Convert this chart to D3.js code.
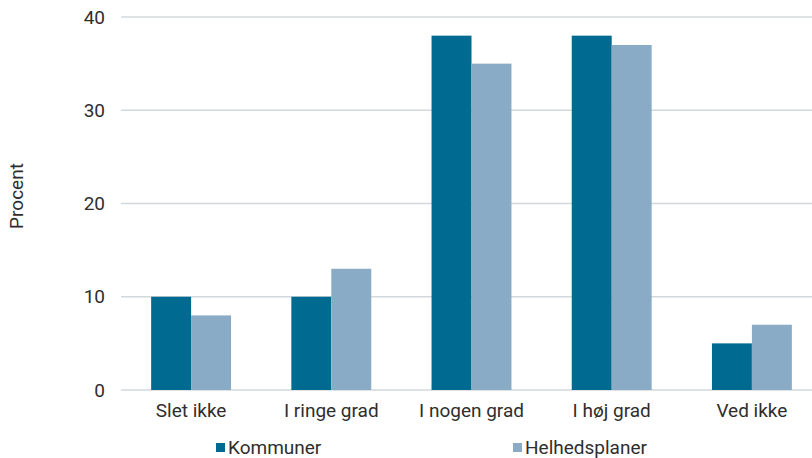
<!DOCTYPE html>
<html>
<head>
<meta charset="utf-8">
<script src="https://cdn.jsdelivr.net/npm/d3@7"></script>
<style>
  html, body { margin: 0; padding: 0; background: #fff; }
  svg { display: block; font-family: Roboto, "DejaVu Sans", sans-serif; }
</style>
</head>
<body>
<svg id="chart" width="812" height="458"></svg>
<script>
const categories = ["Slet ikke", "I ringe grad", "I nogen grad", "I høj grad", "Ved ikke"];
const seriesNames = ["Kommuner", "Helhedsplaner"];
const kommuner = [10, 10, 38, 38, 5];
const helhedsplaner = [8, 13, 35, 37, 7];
const yTicks = [0, 10, 20, 30, 40];
const colors = ["#006a91", "#8aabc5"];

const svg = d3.select("#chart");
const plotLeft = 121, plotRight = 822, plotTop = 17, plotBottom = 390;
const textColor = "#2e2e2e";
const fontSize = 19;

const x = d3.scaleBand().domain(categories).range([plotLeft, plotRight]).paddingInner(0.43).paddingOuter(0.215);
const xs = d3.scaleBand().domain(seriesNames).range([0, x.bandwidth()]);
const y = d3.scaleLinear().domain([0, 40]).range([plotBottom, plotTop]);

// gridlines
svg.append("g")
  .selectAll("line")
  .data(yTicks)
  .join("line")
  .attr("x1", plotLeft).attr("x2", 812)
  .attr("y1", d => y(d)).attr("y2", d => y(d))
  .attr("stroke", "#d3d8dc").attr("stroke-width", 1.5);

// y tick labels
svg.append("g")
  .selectAll("text")
  .data(yTicks)
  .join("text")
  .attr("x", 105).attr("y", d => y(d))
  .attr("dy", "0.35em")
  .attr("text-anchor", "end")
  .attr("font-size", fontSize).attr("fill", textColor)
  .text(d => d);

// y axis title
svg.append("text")
  .attr("transform", `translate(23,196) rotate(-90)`)
  .attr("text-anchor", "middle")
  .attr("font-size", fontSize).attr("fill", textColor)
  .text("Procent");

// bars
const rows = categories.map((c, i) => ({ c, vals: [kommuner[i], helhedsplaner[i]] }));
const groups = svg.append("g").selectAll("g")
  .data(rows)
  .join("g")
  .attr("transform", d => `translate(${x(d.c)},0)`);
groups.selectAll("rect")
  .data(d => d.vals.map((v, j) => ({ s: seriesNames[j], v, j })))
  .join("rect")
  .attr("x", d => xs(d.s))
  .attr("width", xs.bandwidth())
  .attr("y", d => y(d.v))
  .attr("height", d => y(0) - y(d.v))
  .attr("fill", d => colors[d.j]);

// x labels
svg.append("g")
  .selectAll("text")
  .data(categories)
  .join("text")
  .attr("x", d => x(d) + x.bandwidth() / 2)
  .attr("y", 417)
  .attr("text-anchor", "middle")
  .attr("font-size", fontSize).attr("fill", textColor)
  .text(d => d);

// legend
const legendX = [216, 513];
const lg = svg.append("g").selectAll("g")
  .data(seriesNames)
  .join("g")
  .attr("transform", (d, i) => `translate(${legendX[i]},443)`);
lg.append("rect").attr("width", 9).attr("height", 9).attr("fill", (d, i) => colors[i]);
lg.append("text")
  .attr("x", 12).attr("y", 4.5).attr("dy", "0.35em")
  .attr("font-size", fontSize).attr("fill", textColor)
  .text(d => d);
</script>
</body>
</html>
